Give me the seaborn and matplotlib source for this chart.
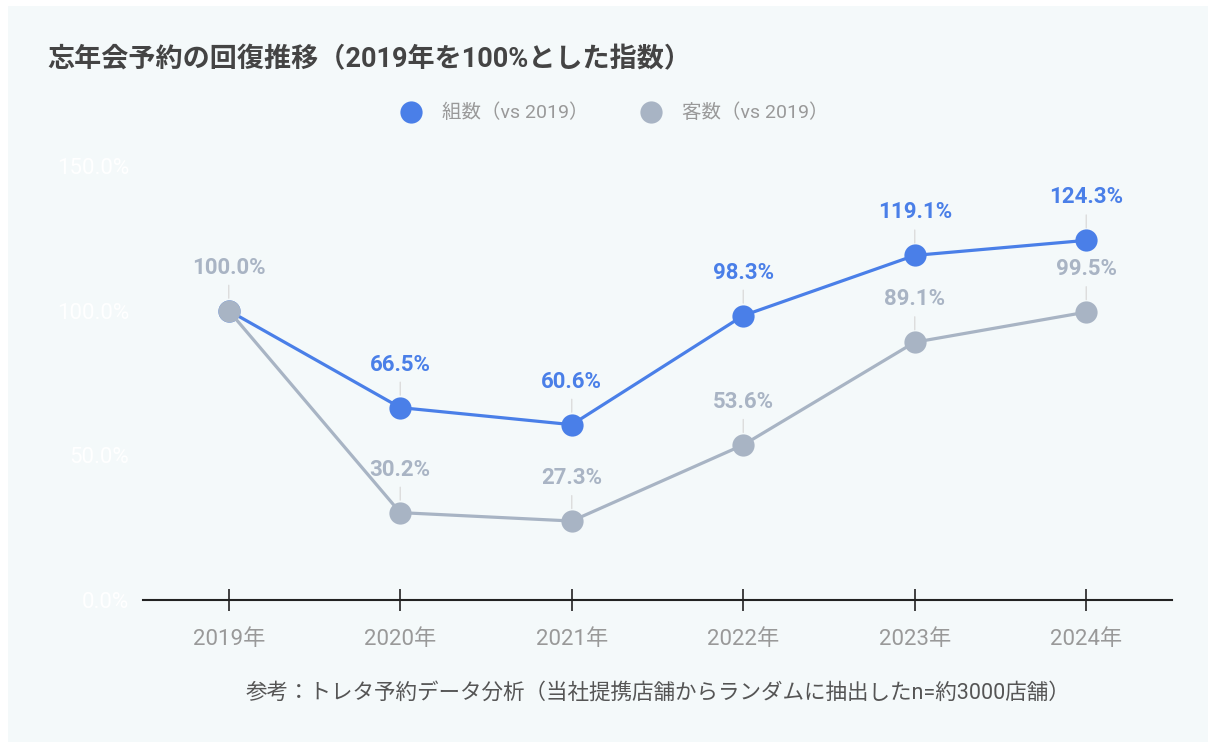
import seaborn as sns
import matplotlib.pyplot as plt
import pandas as pd
from matplotlib.patches import Rectangle
from matplotlib.lines import Line2D

years = ["2019年", "2020年", "2021年", "2022年", "2023年", "2024年"]
groups = [100.0, 66.5, 60.6, 98.3, 119.1, 124.3]   # 組数
guests = [100.0, 30.2, 27.3, 53.6, 89.1, 99.5]     # 客数
series_names = ["組数（vs 2019）", "客数（vs 2019）"]
colors = ["#4a7fe8", "#a8b4c4"]
label_colors = ["#4a7fe8", "#a9b4c4"]

sns.set_theme(style="white")
plt.rcParams['font.family'] = ['Roboto', 'Noto Sans CJK JP', 'DejaVu Sans']

df = pd.DataFrame({
    "year": years * 2,
    "value": groups + guests,
    "series": [series_names[0]] * 6 + [series_names[1]] * 6,
})

fig = plt.figure(figsize=(12.08, 7.42), dpi=100, facecolor="white")
bg = "#f4f9fa"
fig.patches.append(Rectangle((8 / 1208, 0), 1 - 8 / 1208, 1 - 6 / 742,
                             transform=fig.transFigure, facecolor=bg,
                             edgecolor="none", zorder=-5))
ax = fig.add_axes([143 / 1208, 142 / 742, (1172 - 143) / 1208, (600 - 166) / 742])
ax.set_facecolor("none")

# groups first, guests on top (grey covers blue at 2019)
for name, col in zip(series_names, colors):
    sns.lineplot(data=df[df.series == name], x="year", y="value", ax=ax,
                 color=col, linewidth=2.3, marker="o", markersize=16,
                 markeredgewidth=0, sort=False, legend=False)

x = range(len(years))
for vals, other, lc in [(groups, guests, label_colors[0]), (guests, None, label_colors[1])]:
    for i, v in zip(x, vals):
        if other is not None and other[i] == v:
            continue  # hidden under the grey label
        ax.annotate(f"{v:.1f}%", xy=(i, v), xytext=(0, 31), textcoords="offset points",
                    ha="center", va="center", fontsize=16, fontweight="bold",
                    color=lc,
                    bbox=dict(boxstyle="square,pad=0.05", fc="none", ec="none"),
                    arrowprops=dict(arrowstyle="-", color="#dcdcdc", lw=1,
                                    shrinkA=4, shrinkB=9))

ax.set_xlim(-0.5, 5.5)
ax.set_ylim(0, 150)
ax.set_yticks([0, 50, 100, 150])
ax.set_yticklabels(["0.0%", "50.0%", "100.0%", "150.0%"], color="white", fontsize=16)
ax.tick_params(axis="y", length=0, pad=10)
ax.tick_params(axis="x", direction="inout", length=16, width=1.2, color="#222222",
               pad=13, labelsize=16, labelcolor="#999999", bottom=True)
ax.set_xlabel("")
ax.set_ylabel("")
for s in ["top", "right", "left"]:
    ax.spines[s].set_visible(False)
ax.spines["bottom"].set_color("#222222")
ax.spines["bottom"].set_linewidth(1.5)

fig.text(47 / 1208, 1 - 60 / 742, "忘年会予約の回復推移（2019年を100%とした指数）",
         fontsize=19.5, fontweight="bold", color="#444444", va="center", ha="left")

handles = [Line2D([], [], marker="o", linestyle="none", markersize=16,
                  markeredgewidth=0, color=c) for c in colors]
leg = fig.legend(handles, series_names, loc="center", bbox_to_anchor=(0.505, 1 - 113 / 742),
                 ncol=2, frameon=False, fontsize=14, handletextpad=0.6, columnspacing=2.2)
for t in leg.get_texts():
    t.set_color("#999999")

ax.text(0.5, -0.215, "参考：トレタ予約データ分析（当社提携店舗からランダムに抽出したn=約3000店舗）",
        transform=ax.transAxes, ha="center", va="center", fontsize=15.5, color="#555555")

fig.savefig("out.png", dpi=100, facecolor=fig.get_facecolor())
